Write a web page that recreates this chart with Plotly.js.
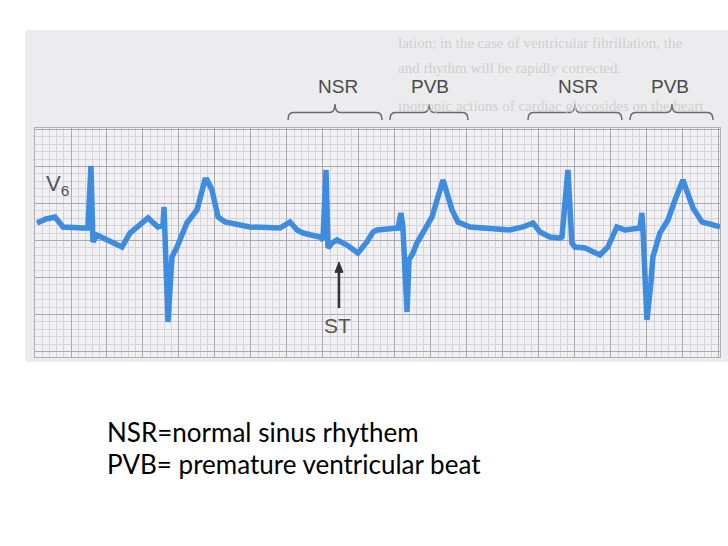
<!DOCTYPE html>
<html>
<head>
<meta charset="utf-8">
<script src="https://cdn.plot.ly/plotly-3.0.1.min.js"></script>
<style>html,body{margin:0;padding:0;background:#fff;}#chart{width:728px;height:546px;}</style>
</head>
<body>
<div id="chart"></div>
<script>
// ECG lead V6: time (s) and voltage (mV), read from the strip
var time = [0.011,0.061,0.111,0.156,0.267,0.294,0.311,0.322,0.344,0.483,0.528,0.628,0.683,0.711,0.717,0.739,0.761,0.789,0.844,0.900,0.944,0.956,0.983,1.017,1.056,1.194,1.361,1.417,1.456,1.489,1.583,1.600,1.617,1.628,1.650,1.678,1.733,1.794,1.844,1.878,1.900,2.017,2.033,2.044,2.067,2.078,2.100,2.122,2.206,2.267,2.317,2.350,2.417,2.639,2.711,2.767,2.806,2.861,2.917,2.928,2.961,2.983,3.000,3.056,3.139,3.183,3.233,3.278,3.361,3.372,3.378,3.400,3.422,3.433,3.472,3.517,3.556,3.600,3.656,3.706,3.806];
var voltage = [0.068,0.122,0.149,0.014,0,0,0.838,-0.189,-0.095,-0.257,-0.068,0.135,0.014,0.041,0.284,-1.270,-0.392,-0.257,0.068,0.243,0.649,0.649,0.514,0.149,0.081,0.014,0,0.081,-0.027,-0.068,-0.122,-0.162,0.784,-0.270,-0.203,-0.162,-0.230,-0.338,-0.189,-0.054,-0.027,0,0.203,0.014,-1.135,-0.432,-0.338,-0.203,0.149,0.649,0.243,0.081,0.014,-0.027,0.014,0.068,-0.054,-0.122,-0.135,-0.122,0.784,-0.203,-0.257,-0.270,-0.365,-0.257,0.014,-0.027,0,0.203,-0.027,-1.243,-0.743,-0.392,-0.068,0.108,0.378,0.649,0.270,0.081,0.014];

// beat labels and their bracket spans (s)
var beatLabels = ["NSR","PVB","NSR","PVB"];
var beatCenters = [1.683,2.194,3.017,3.528];
var bracketStart = [1.406,1.972,2.739,3.306];
var bracketEnd = [1.928,2.406,3.261,3.767];
var bracketPeak = [1.667,2.189,3.000,3.539];

var legendLines = ["NSR=normal sinus rhythem","PVB= premature ventricular beat"];
var bookLines = ["lation; in the case of ventricular fibrillation, the","and rhythm will be rapidly corrected.","inotropic actions of cardiac glycosides on the heart"];

function bracePath(a, b, c) {
  var yb = 1.035, ym = 1.068, yt = 1.105;
  var r = 0.03;
  return "M" + a + "," + yb +
    " Q" + a + "," + ym + " " + (a + r) + "," + ym +
    " L" + (c - r) + "," + ym +
    " Q" + c + "," + ym + " " + c + "," + yt +
    " Q" + c + "," + ym + " " + (c + r) + "," + ym +
    " L" + (b - r) + "," + ym +
    " Q" + b + "," + ym + " " + b + "," + yb;
}

var arrowX = 1.689, arrowTail = -1.081, arrowHead = -0.459;
var shapes = [
  {type:"rect", xref:"paper", yref:"paper", x0:-0.0146, x1:1.02, y0:-0.022, y1:1.428,
   fillcolor:"#ececee", line:{width:0}, layer:"below"},
  {type:"rect", xref:"paper", yref:"paper", x0:0, x1:1, y0:0, y1:1,
   fillcolor:"#f1f1f3", line:{width:0}, layer:"below"},
  {type:"line", xref:"x", yref:"y", x0:arrowX, x1:arrowX, y0:arrowTail, y1:arrowHead - 0.1,
   line:{color:"#333", width:2.5}},
  {type:"path", xref:"x", yref:"y",
   path:"M" + (arrowX - 0.022) + "," + (arrowHead - 0.14) + " L" + arrowX + "," + arrowHead + " L" + (arrowX + 0.022) + "," + (arrowHead - 0.14) + " Z",
   fillcolor:"#333", line:{color:"#333", width:1}}
];
for (var i = 0; i < bracketStart.length; i++) {
  shapes.push({type:"path", xref:"x", yref:"paper", path: bracePath(bracketStart[i], bracketEnd[i], bracketPeak[i]),
    line:{color:"#6a6a6a", width:1.5}});
}

var annotations = [];
var bookY = [1.371, 1.262, 1.095];
for (var j = 0; j < bookLines.length; j++) {
  annotations.push({xref:"paper", yref:"paper", x:0.527, y:bookY[j], xanchor:"left", yanchor:"middle",
    text: bookLines[j], showarrow:false, font:{family:"Liberation Serif, serif", size:15, color:"#cfcfd2"}});
}
for (var k = 0; k < beatLabels.length; k++) {
  annotations.push({xref:"x", yref:"paper", x:beatCenters[k], y:1.183, xanchor:"center", yanchor:"middle",
    text: beatLabels[k], showarrow:false, font:{family:"Liberation Sans, Arial, sans-serif", size:19, color:"#4a4a4a"}});
}
annotations.push({xref:"x", yref:"y", x:0.125, y:0.58, text:"V<sub>6</sub>", showarrow:false,
  font:{family:"Liberation Sans, Arial, sans-serif", size:22, color:"#555"}});
annotations.push({xref:"x", yref:"y", x:1.678, y:-1.324, text:"ST", showarrow:false,
  font:{family:"Liberation Sans, Arial, sans-serif", size:21, color:"#555"}});
var legY = [-0.3275, -0.467];
for (var m = 0; m < legendLines.length; m++) {
  annotations.push({xref:"paper", yref:"paper", x:0.102, y:legY[m], xanchor:"left", yanchor:"middle",
    text: legendLines[m], showarrow:false, font:{family:"Lato, 'Open Sans', sans-serif", size:26, color:"#000"}});
}

var trace = {x: time, y: voltage, type:"scatter", mode:"lines",
  line:{color:"#3d8ce0", width:5.5, shape:"linear"}, hoverinfo:"skip"};

var layout = {
  width:728, height:546,
  margin:{l:35, r:8, t:128, b:189},
  paper_bgcolor:"#ffffff", plot_bgcolor:"rgba(0,0,0,0)",
  showlegend:false,
  xaxis:{range:[0,3.806], tick0:0, dtick:0.2, showgrid:true, gridcolor:"#a9a9b3", gridwidth:1,
    minor:{tick0:0, dtick:0.04, showgrid:true, gridcolor:"#d4d4da", gridwidth:1},
    showticklabels:false, ticks:"", zeroline:false, showline:true, mirror:true, linecolor:"#b0b0b8", linewidth:1, fixedrange:true},
  yaxis:{range:[-1.743,1.351], tick0:-0.17, dtick:0.5, showgrid:true, gridcolor:"#a9a9b3", gridwidth:1,
    minor:{tick0:-0.17, dtick:0.1, showgrid:true, gridcolor:"#d4d4da", gridwidth:1},
    showticklabels:false, ticks:"", zeroline:false, showline:true, mirror:true, linecolor:"#b0b0b8", linewidth:1, fixedrange:true},
  shapes: shapes,
  annotations: annotations
};

Plotly.newPlot("chart", [trace], layout, {displayModeBar:false, staticPlot:true});
</script>
</body>
</html>
